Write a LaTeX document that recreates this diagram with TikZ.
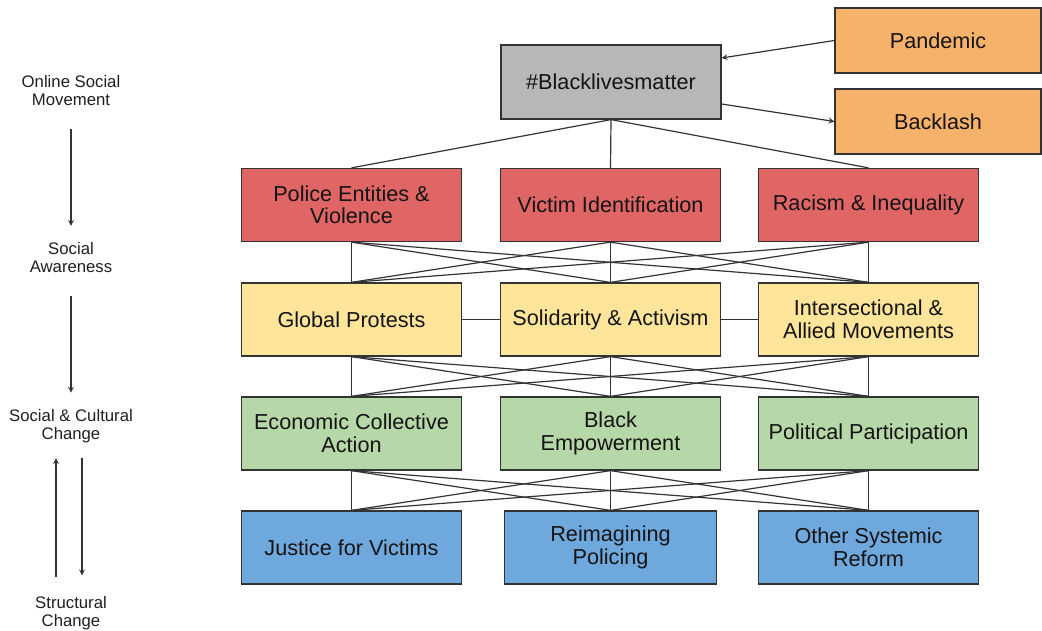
\documentclass[tikz,border=0pt]{standalone}
\usepackage{fontspec}
\setmainfont{Liberation Sans}
\usepackage{xcolor}
\usetikzlibrary{positioning, arrows}

\definecolor{tagGray}{HTML}{B7B7B7}
\definecolor{ctxOrange}{HTML}{F6B26B}
\definecolor{awareRed}{HTML}{E06666}
\definecolor{actYellow}{HTML}{FFE599}
\definecolor{changeGreen}{HTML}{B6D7A8}
\definecolor{reformBlue}{HTML}{6FA8DC}
\definecolor{edgeGray}{HTML}{333333}

\tikzset{
  box/.style={rectangle, draw=edgeGray, line width=0.9pt, minimum width=5.5cm, minimum height=1.825cm,
    align=center, text=black!92, font=\fontsize{15.4}{16}\selectfont},
  stage/.style={align=center, text=black!88, font=\fontsize{11.9}{12.8}\selectfont},
  link/.style={draw=edgeGray, line width=0.85pt},
}

\begin{document}
\begin{tikzpicture}
\useasboundingbox (0, 0) rectangle (26.05, -15.775);

% left column: stages
\node[stage] (online) at (1.775, -2.275) {Online Social\\Movement};
\node[stage] (aware) at (1.775, -6.45) {Social\\Awareness};
\node[stage] (cultural) at (1.775, -10.66) {Social \& Cultural\\Change};
\node[stage] (structural) at (1.775, -15.33) {Structural\\Change};

\draw[link, -stealth, shorten <=0.45cm, shorten >=0.3cm] (online) -- (aware);
\draw[link, -stealth, shorten <=0.45cm, shorten >=0.3cm] (aware) -- (cultural);
\draw[link, -stealth] ([xshift=-0.375cm, yshift=0.35cm]structural.north) -- ([xshift=-0.375cm, yshift=-0.25cm]cultural.south);
\draw[link, -stealth] ([xshift=0.275cm, yshift=-0.25cm]cultural.south) -- ([xshift=0.275cm, yshift=0.4cm]structural.north);

% top: hashtag and context
\node[box, fill=tagGray, minimum height=1.85cm] (blm) at (15.275, -2.05) {\#Blacklivesmatter};
\node[box, fill=ctxOrange, minimum width=5.15cm, minimum height=1.625cm] (pandemic) at (23.45, -1.0125) {Pandemic};
\node[box, fill=ctxOrange, minimum width=5.15cm, minimum height=1.625cm] (backlash) at (23.45, -3.0375) {Backlash};

\draw[link, -stealth] (pandemic.west) -- ([yshift=0.6cm]blm.east);
\draw[link, -stealth] ([yshift=-0.55cm]blm.east) -- (backlash.west);

% rows
\node[box, fill=awareRed] (police) at (8.7875, -5.125) {Police Entities \&\\Violence};
\node[box, fill=awareRed] (victim) at (15.2625, -5.125) {Victim Identification};
\node[box, fill=awareRed] (racism) at (21.7125, -5.125) {Racism \& Inequality};

\node[box, fill=actYellow] (global) at (8.7875, -7.9875) {Global Protests};
\node[box, fill=actYellow] (solidarity) at (15.2625, -7.9875) {Solidarity \& Activism};
\node[box, fill=actYellow] (intersect) at (21.7125, -7.9875) {Intersectional \&\\Allied Movements};

\node[box, fill=changeGreen] (econ) at (8.7875, -10.8375) {Economic Collective\\Action};
\node[box, fill=changeGreen] (empower) at (15.2625, -10.8375) {Black\\Empowerment};
\node[box, fill=changeGreen] (political) at (21.7125, -10.8375) {Political Participation};

\node[box, fill=reformBlue] (justice) at (8.7875, -13.6875) {Justice for Victims};
\node[box, fill=reformBlue, minimum width=5.3cm] (policing) at (15.2625, -13.6875) {Reimagining\\Policing};
\node[box, fill=reformBlue] (reform) at (21.7125, -13.6875) {Other Systemic\\Reform};

% connectors
\foreach \b in {police, victim, racism}
  \draw[link] (blm.south) -- (\b.north);
\foreach \a in {police, victim, racism}
  \foreach \b in {global, solidarity, intersect}
    \draw[link] (\a.south) -- (\b.north);
\foreach \a in {global, solidarity, intersect}
  \foreach \b in {econ, empower, political}
    \draw[link] (\a.south) -- (\b.north);
\foreach \a in {econ, empower, political}
  \foreach \b in {justice, policing, reform}
    \draw[link] (\a.south) -- (\b.north);
\draw[link] (global) -- (solidarity);
\draw[link] (solidarity) -- (intersect);
\end{tikzpicture}
\end{document}
